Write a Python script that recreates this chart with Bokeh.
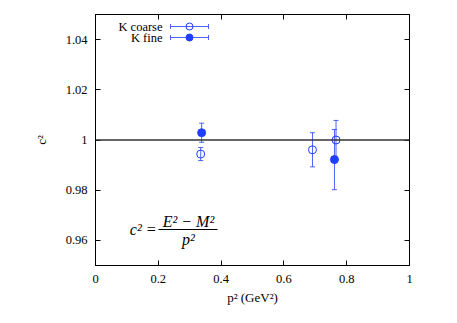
from bokeh.plotting import figure
from bokeh.models import (ColumnDataSource, Whisker, TeeHead, Span, Label, LinearAxis,
                          FixedTicker, Range1d, Arrow)
from bokeh.embed import file_html
from bokeh.resources import INLINE

# ---- data ----
coarse_p2 = [0.335, 0.691, 0.766]
coarse_c2 = [0.9944, 0.9961, 1.0000]
coarse_err = [0.0026, 0.0068, 0.0078]

fine_p2 = [0.338, 0.761]
fine_c2 = [1.0029, 0.9922]
fine_err = [0.0038, 0.0120]

x_ticks = [0, 0.2, 0.4, 0.6, 0.8, 1]
x_labels = ["0", "0.2", "0.4", "0.6", "0.8", "1"]
y_ticks = [0.96, 0.98, 1, 1.02, 1.04]
y_labels = ["0.96", "0.98", "1", "1.02", "1.04"]

X0, X1 = 0, 1
Y0, Y1 = 0.95, 1.05

BLUE = "#1f3fff"
FONT = "Liberation Serif"
FW, FH = 314, 251  # frame size in px

p = figure(width=95 + FW + 40, height=14 + FH + 50, output_backend="svg", toolbar_location=None,
           x_range=Range1d(X0, X1), y_range=Range1d(Y0, Y1),
           min_border_left=95, min_border_right=40, min_border_top=14, min_border_bottom=50)
p.grid.visible = False
p.background_fill_color = "white"
p.border_fill_color = "white"
p.outline_line_color = "black"
p.outline_line_width = 1

xb = p.xaxis[0]
yl = p.yaxis[0]
xb.ticker = FixedTicker(ticks=x_ticks)
yl.ticker = FixedTicker(ticks=y_ticks)
for ax in (xb, yl):
    ax.major_tick_in = 5
    ax.major_tick_out = 0
    ax.minor_tick_line_color = None
    ax.axis_line_color = "black"
    ax.major_label_text_font = FONT
    ax.major_label_text_font_size = "12.5px"
    ax.major_label_text_color = "black"
    ax.axis_label_text_font = FONT
    ax.axis_label_text_font_size = "13px"
    ax.axis_label_text_font_style = "normal"
    ax.axis_label_text_color = "black"
xb.major_label_overrides = {t: l for t, l in zip(x_ticks, x_labels)}
yl.major_label_overrides = {t: l for t, l in zip(y_ticks, y_labels)}
xb.axis_label = "p² (GeV²)"
yl.axis_label = "c²"
xb.major_label_standoff = 9
xb.axis_label_standoff = 4
yl.major_label_standoff = 8
yl.axis_label_standoff = 14

for ticks, side in ((x_ticks, "above"), (y_ticks, "right")):
    ax = LinearAxis(ticker=FixedTicker(ticks=ticks), major_tick_in=5, major_tick_out=0,
                    minor_tick_line_color=None, major_label_text_font_size="1px",
                    major_label_text_color=None, major_label_standoff=0,
                    axis_line_color="black")
    p.add_layout(ax, side)

# horizontal line at c^2 = 1
p.add_layout(Span(location=1, dimension="width", line_color="#333333", line_width=1.3))

# sources
cs = ColumnDataSource(dict(x=coarse_p2, y=coarse_c2,
                           lo=[v - e for v, e in zip(coarse_c2, coarse_err)],
                           hi=[v + e for v, e in zip(coarse_c2, coarse_err)]))
fs = ColumnDataSource(dict(x=fine_p2, y=fine_c2,
                           lo=[v - e for v, e in zip(fine_c2, fine_err)],
                           hi=[v + e for v, e in zip(fine_c2, fine_err)]))


def head():
    return TeeHead(size=5, line_color=BLUE, line_width=1, line_alpha=0.8)


for src in (cs, fs):
    p.add_layout(Whisker(source=src, base="x", lower="lo", upper="hi", dimension="height",
                         line_color=BLUE, line_width=1, line_alpha=0.8,
                         upper_head=head(), lower_head=head()))

p.scatter("x", "y", source=cs, marker="circle", size=8, fill_color=None,
          line_color=BLUE, line_width=1)
p.scatter("x", "y", source=fs, marker="circle", size=8, fill_color=BLUE,
          line_color=BLUE, line_width=1)

# ---- key (gnuplot style: text right-aligned, sample to the right) ----
key_names = ["K coarse", "K fine"]
key_fill = [None, BLUE]
key_y = [239, 228]          # screen px above frame bottom
key_text_x = 67             # screen px right of frame left
key_line = (75, 113)
key_mark_x = 94


def sx(px):
    return X0 + px / FW * (X1 - X0)


def sy(px):
    return Y0 + px / FH * (Y1 - Y0)


for name, ky, fill in zip(key_names, key_y, key_fill):
    p.add_layout(Label(x=key_text_x, y=ky, x_units="screen", y_units="screen", text=name,
                       text_align="right", text_baseline="middle", text_font=FONT,
                       text_font_size="12.5px", text_color="black"))
    p.add_layout(Whisker(base=ky, lower=key_line[0], upper=key_line[1], base_units="screen",
                         lower_units="screen", upper_units="screen", dimension="width",
                         line_color=BLUE, line_width=1, line_alpha=0.8,
                         upper_head=head(), lower_head=head()))
    p.scatter([sx(key_mark_x)], [sy(ky)], marker="circle", size=7, fill_color=fill,
              line_color=BLUE, line_width=1)

# ---- formula ----
p.add_layout(Label(x=61, y=36, x_units="screen", y_units="screen", text="c² =",
                   text_align="right", text_baseline="middle", text_font=FONT,
                   text_font_style="italic", text_font_size="16px", text_color="black"))
p.add_layout(Label(x=93, y=44, x_units="screen", y_units="screen", text="E² − M²",
                   text_align="center", text_baseline="middle", text_font=FONT,
                   text_font_style="italic", text_font_size="16px", text_color="black"))
p.add_layout(Label(x=93, y=26, x_units="screen", y_units="screen", text="p²",
                   text_align="center", text_baseline="middle", text_font=FONT,
                   text_font_style="italic", text_font_size="16px", text_color="black"))
p.add_layout(Arrow(x_start=63, y_start=36, x_end=122, y_end=36, start_units="screen",
                   end_units="screen", start=None, end=None, line_color="black", line_width=1))

open("out.html", "w").write(file_html(p, INLINE))
